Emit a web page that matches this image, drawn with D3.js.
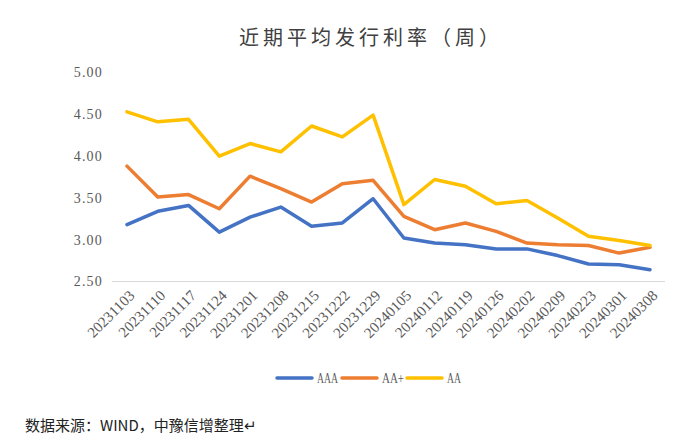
<!DOCTYPE html>
<html><head><meta charset="utf-8">
<script src="https://cdn.jsdelivr.net/npm/d3@7"></script>
<style>body{margin:0;background:#fff}svg{display:block}</style>
</head><body>
<script>
const categories = ["20231103","20231110","20231117","20231124","20231201","20231208","20231215","20231222","20231229","20240105","20240112","20240119","20240126","20240202","20240209","20240223","20240301","20240308"];
const seriesNames = ["AAA","AA+","AA"];
const aaa = [3.18,3.34,3.41,3.09,3.27,3.39,3.16,3.20,3.49,3.02,2.96,2.94,2.89,2.89,2.81,2.71,2.70,2.64];
const aaPlus = [3.88,3.51,3.54,3.37,3.76,3.61,3.45,3.67,3.71,3.28,3.12,3.20,3.10,2.96,2.94,2.93,2.84,2.91];
const aa = [4.53,4.41,4.44,4.00,4.15,4.05,4.36,4.23,4.49,3.42,3.72,3.64,3.43,3.47,3.26,3.04,2.99,2.93];
const yTicks = [2.5,3.0,3.5,4.0,4.5,5.0];
const colors = ["#4472C4","#ED7D31","#FFC000"];
const title = "近期平均发行利率（周）";
const source = "数据来源：WIND，中豫信增整理↵";

const W = 679, H = 445;
const svg = d3.select("body").append("svg").attr("width", W).attr("height", H);
const x = d3.scalePoint().domain(categories).range([127, 650]);
const y = d3.scaleLinear().domain([2.5, 5.0]).range([281.5, 72.5]);

svg.append("text").attr("x", 371).attr("y", 45).attr("text-anchor", "middle")
  .attr("font-family", "Noto Sans CJK SC").attr("font-size", 20).attr("letter-spacing", 4)
  .attr("fill", "#404040").text(title);

// y axis labels
const yAxis = d3.axisLeft(y).tickValues(yTicks).tickFormat(d3.format(".2f")).tickSize(0).tickPadding(0);
const gy = svg.append("g").attr("transform", "translate(103,0)").call(yAxis);
gy.select(".domain").remove();
gy.selectAll("text").attr("font-family", "Liberation Serif").attr("font-size", 14)
  .attr("letter-spacing", 1.2).attr("fill", "#595959");

// baseline
svg.append("line").attr("x1", 112).attr("x2", 665).attr("y1", y(2.5)).attr("y2", y(2.5))
  .attr("stroke", "#d9d9d9").attr("stroke-width", 1);

// x labels
const xAxis = d3.axisBottom(x).tickSize(0).tickPadding(0);
const gx = svg.append("g").attr("transform", `translate(0,${y(2.5)})`).call(xAxis);
gx.select(".domain").remove();
gx.selectAll("text").attr("font-family", "Liberation Serif").attr("font-size", 15)
  .attr("fill", "#595959").attr("text-anchor", "end").attr("dy", null).attr("y", 0)
  .attr("transform", "translate(8,15) rotate(-45)");

const data = [aaa, aaPlus, aa];
const line = d3.line().x((d, i) => x(categories[i])).y(d => y(d));
data.forEach((s, k) => {
  svg.append("path").datum(s).attr("d", line).attr("fill", "none")
    .attr("stroke", colors[k]).attr("stroke-width", 3.5).attr("stroke-linejoin", "round").attr("stroke-linecap", "round");
});

// legend
const legX = [277, 342, 407];
const legW = [21, 22, 14];
seriesNames.forEach((n, k) => {
  svg.append("line").attr("x1", legX[k]).attr("x2", legX[k] + 35).attr("y1", 378).attr("y2", 378)
    .attr("stroke", colors[k]).attr("stroke-width", 3.5).attr("stroke-linecap", "round");
  svg.append("text").attr("x", legX[k] + 40).attr("y", 383).attr("font-family", "Liberation Serif")
    .attr("font-size", 14).attr("fill", "#595959")
    .attr("textLength", legW[k]).attr("lengthAdjust", "spacingAndGlyphs").text(n);
});

svg.append("text").attr("x", 25).attr("y", 431).attr("font-family", "Noto Sans CJK SC")
  .attr("font-size", 15).attr("fill", "#222").text(source);
</script>
</body></html>
